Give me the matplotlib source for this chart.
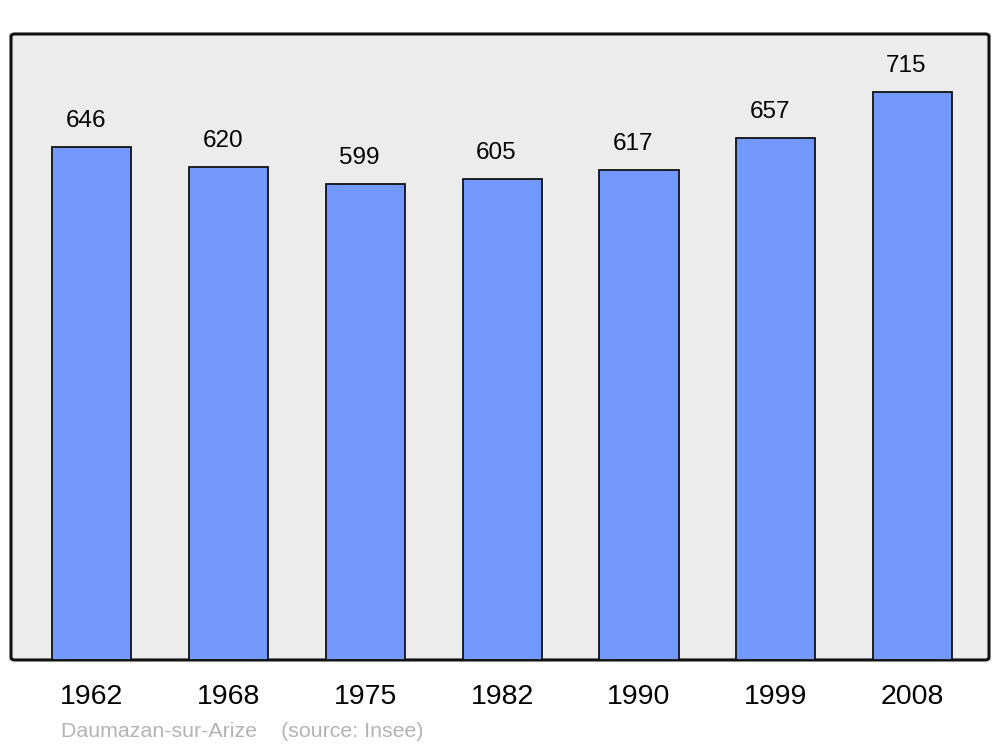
import matplotlib.pyplot as plt
from matplotlib.patches import FancyBboxPatch
import numpy as np

plt.rcParams['font.family'] = ['Liberation Sans', 'DejaVu Sans']

years = ["1962", "1968", "1975", "1982", "1990", "1999", "2008"]
population = [646, 620, 599, 605, 617, 657, 715]

fig = plt.figure(figsize=(10, 7.47), dpi=100)
ax = fig.add_axes([0.011, 0.1165, 0.978, 0.838])
ax.set_facecolor("none")

# rounded background frame
frame = FancyBboxPatch((0, 0), 1, 1, boxstyle="round,pad=0,rounding_size=0.004",
                       transform=ax.transAxes, facecolor="#ececec",
                       edgecolor="#111111", linewidth=2.2, zorder=0, clip_on=False)
ax.add_patch(frame)

x = np.arange(len(years))
ax.bar(x, population, width=0.578, color="#7399ff", edgecolor="#111111",
       linewidth=1.3, zorder=2)

for xi, v in zip(x, population):
    ax.text(xi - 0.045, v + 33, str(v), ha="center", va="center", fontsize=17.5)

ax.set_xlim(-0.592, 6.559)
ax.set_ylim(0, 788)
for s in ax.spines.values():
    s.set_visible(False)
ax.set_yticks([])
ax.set_xticks(x)
ax.set_xticklabels(years, fontsize=20.5)
ax.tick_params(axis="x", length=0, pad=17.5)

fig.text(0.061, 0.0135, "Daumazan-sur-Arize    (source: Insee)", color="#b3b3b3",
         fontsize=15.4, ha="left", va="baseline")

fig.savefig("out.png", dpi=100)
